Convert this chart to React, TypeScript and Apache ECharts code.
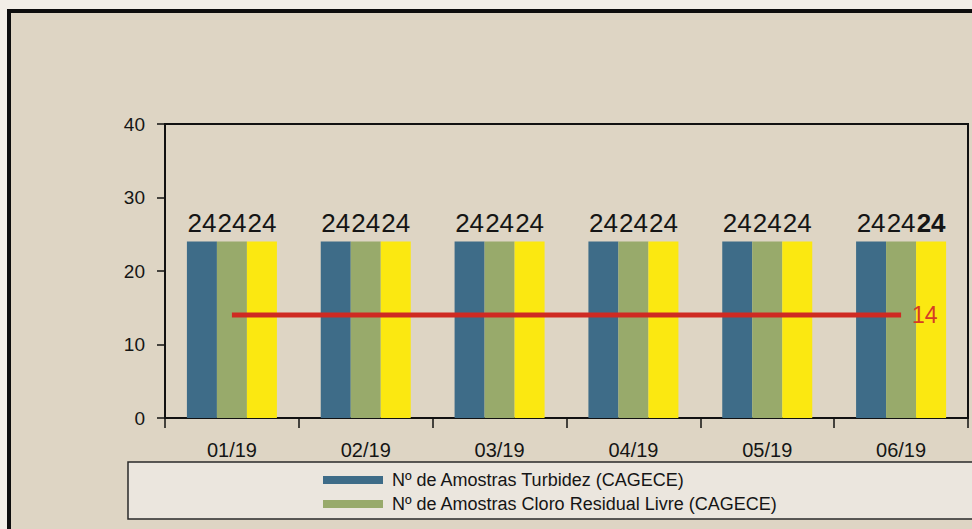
import React, { useEffect, useRef } from "react";
import * as echarts from "echarts";

const categories = ["01/19", "02/19", "03/19", "04/19", "05/19", "06/19"];
const turbidez = [24, 24, 24, 24, 24, 24];
const cloro = [24, 24, 24, 24, 24, 24];
const coliformes = [24, 24, 24, 24, 24, 24];
const padrao = [14, 14, 14, 14, 14, 14];
const yTicks = { min: 0, max: 40, interval: 10 };

const nameTurbidez = "Nº de Amostras Turbidez (CAGECE)";
const nameCloro = "Nº de Amostras Cloro Residual Livre (CAGECE)";
const nameColi = "Nº de Amostras Coliformes Totais (CAGECE)";
const namePadrao = "Nº Mínimo de Amostras";

export default function App() {
  const ref = useRef<HTMLDivElement>(null);
  useEffect(() => {
    if (!ref.current) return;
    const chart = echarts.init(ref.current, undefined, { renderer: "svg" });
    const font = "Liberation Sans, Arial, sans-serif";
    const barLabel = {
      show: true,
      position: "top",
      distance: 6,
      fontSize: 26,
      color: "#151515",
      fontFamily: font,
    };
    chart.setOption({
      animation: false,
      backgroundColor: "#ded5c4",
      textStyle: { fontFamily: font },
      graphic: [
        { type: "rect", shape: { x: 0, y: 0, width: 972, height: 9 }, style: { fill: "#f2eee7" }, silent: true, z: -10 },
        { type: "rect", shape: { x: 0, y: 0, width: 7, height: 529 }, style: { fill: "#f2eee7" }, silent: true, z: -10 },
        { type: "rect", shape: { x: 9, y: 11, width: 980, height: 540 }, style: { fill: "none", stroke: "#0d0d0d", lineWidth: 4 }, silent: true, z: -5 },
        { type: "rect", shape: { x: 128, y: 462, width: 860, height: 57 }, style: { fill: "#ebe6de", stroke: "#2a2a2a", lineWidth: 1.5 }, silent: true, z: -5 },
      ],
      grid: {
        left: 165,
        top: 124,
        right: 4,
        bottom: 111,
        show: true,
        borderColor: "#111",
        borderWidth: 2,
        backgroundColor: "transparent",
      },
      legend: {
        data: [nameTurbidez, nameCloro],
        orient: "vertical",
        left: 323,
        top: 471,
        padding: 0,
        itemWidth: 60,
        itemHeight: 8,
        itemGap: 6,
        icon: "rect",
        textStyle: { fontSize: 18, color: "#151515", fontFamily: font, padding: [0, 0, 0, 4] },
      },
      xAxis: {
        type: "category",
        data: categories,
        axisLine: { lineStyle: { color: "#111", width: 2 } },
        axisTick: { show: true, length: 10, lineStyle: { color: "#111", width: 1.5 } },
        axisLabel: { fontSize: 20, color: "#151515", margin: 22, fontFamily: font },
      },
      yAxis: {
        type: "value",
        min: yTicks.min,
        max: yTicks.max,
        interval: yTicks.interval,
        splitLine: { show: false },
        axisLine: { show: true, lineStyle: { color: "#111", width: 2 } },
        axisTick: { show: true, length: 8, lineStyle: { color: "#111", width: 1.5 } },
        axisLabel: { fontSize: 19, color: "#151515", margin: 20, fontFamily: font },
      },
      series: [
        {
          name: nameTurbidez,
          type: "bar",
          data: turbidez,
          barWidth: 30,
          barGap: "0%",
          itemStyle: { color: "#3e6c88" },
          label: barLabel,
        },
        {
          name: nameCloro,
          type: "bar",
          data: cloro,
          barWidth: 30,
          barGap: "0%",
          itemStyle: { color: "#98aa6b" },
          label: barLabel,
        },
        {
          name: nameColi,
          type: "bar",
          data: coliformes.map((v, i) =>
            i === coliformes.length - 1
              ? { value: v, label: { fontWeight: "bold" } }
              : v
          ),
          barWidth: 30,
          barGap: "0%",
          itemStyle: { color: "#fbe811" },
          label: barLabel,
        },
        {
          name: namePadrao,
          type: "line",
          data: padrao,
          symbol: "none",
          lineStyle: { color: "#cf2a22", width: 5 },
          endLabel: {
            show: true,
            formatter: "{c}",
            distance: 11,
            fontSize: 23,
            color: "#d63a26",
            fontFamily: font,
          },
          z: 5,
        },
      ],
    });
    return () => chart.dispose();
  }, []);
  return (
    <div
      ref={ref}
      style={{ position: "absolute", left: 0, top: 0, width: 972, height: 529 }}
    />
  );
}
